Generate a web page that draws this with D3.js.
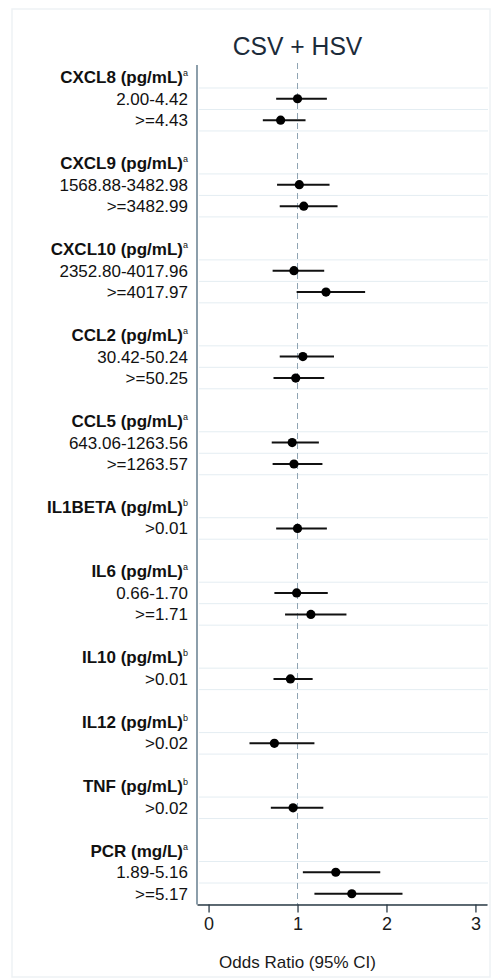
<!DOCTYPE html>
<html><head><meta charset="utf-8">
<script src="https://cdn.jsdelivr.net/npm/d3@7"></script>
<style>
html,body{margin:0;padding:0;background:#fff;}
svg{display:block;font-family:"Liberation Sans",Arial,Helvetica,sans-serif;}
</style></head>
<body>
<svg id="chart" width="496" height="978"></svg>
<script>
const title = "CSV + HSV";
const xTitle = "Odds Ratio (95% CI)";
const headers = ["CXCL8 (pg/mL)","CXCL9 (pg/mL)","CXCL10 (pg/mL)","CCL2 (pg/mL)","CCL5 (pg/mL)","IL1BETA (pg/mL)","IL6 (pg/mL)","IL10 (pg/mL)","IL12 (pg/mL)","TNF (pg/mL)","PCR (mg/L)"];
const headerNotes = ["a","a","a","a","a","b","a","b","b","b","a"];
const levelGroup = [0,0,1,1,2,2,3,3,4,4,5,6,6,7,8,9,10,10];
const levels = ["2.00-4.42",">=4.43","1568.88-3482.98",">=3482.99","2352.80-4017.96",">=4017.97","30.42-50.24",">=50.25","643.06-1263.56",">=1263.57",">0.01","0.66-1.70",">=1.71",">0.01",">0.02",">0.02","1.89-5.16",">=5.17"];
const oddsRatio = [1.00,0.81,1.02,1.07,0.96,1.32,1.06,0.98,0.94,0.96,1.00,0.99,1.15,0.92,0.74,0.95,1.43,1.61];
const ciLow =  [0.76,0.61,0.77,0.80,0.72,0.99,0.80,0.73,0.71,0.72,0.76,0.74,0.86,0.73,0.46,0.70,1.06,1.19];
const ciHigh = [1.33,1.09,1.36,1.45,1.30,1.76,1.41,1.30,1.24,1.28,1.33,1.34,1.55,1.17,1.19,1.29,1.93,2.18];
const xTicks = [0,1,2,3];
const refValue = 1;

// build row list
const rows = [];
headers.forEach((h, g) => {
  rows.push({type:"header", label:h, note:headerNotes[g]});
  levels.forEach((l, i) => {
    if (levelGroup[i] === g) rows.push({type:"level", label:l, or:oddsRatio[i], lo:ciLow[i], hi:ciHigh[i]});
  });
  if (g < headers.length - 1) rows.push({type:"blank"});
});
rows.forEach((r,i)=> r.idx = i);

const svg = d3.select("#chart");
const plotLeft = 197, plotRight = 487, plotTop = 66.5, plotBottom = 904.5;

const x = d3.scaleLinear().domain([-0.13, 3.13]).range([plotLeft, plotRight]);
const y = d3.scaleBand().domain(rows.map(r=>r.idx)).range([plotTop, plotBottom]).padding(0);
const cy = i => y(i) + y.bandwidth()/2;

// outer frame
svg.append("rect").attr("x",12).attr("y",9).attr("width",478).attr("height",968)
  .attr("fill","none").attr("stroke","#eef2f5").attr("stroke-width",1.5);

// gridlines below each non-blank row
svg.append("g").selectAll("line").data(rows.filter(r=>r.type!=="blank")).join("line")
  .attr("x1", plotLeft+2).attr("x2", plotRight+1)
  .attr("y1", d=>y(d.idx)+y.bandwidth()).attr("y2", d=>y(d.idx)+y.bandwidth())
  .attr("stroke","#e4edf2").attr("stroke-width",1);

// reference dashed line
svg.append("line").attr("x1", x(refValue)).attr("x2", x(refValue))
  .attr("y1", 63).attr("y2", plotBottom)
  .attr("stroke","#8fa3b2").attr("stroke-width",1).attr("stroke-dasharray","6,4");

// left axis line
svg.append("line").attr("x1", plotLeft).attr("x2", plotLeft).attr("y1", 65).attr("y2", plotBottom)
  .attr("stroke","#4f6b7e").attr("stroke-width",1.3);

// x axis
const xAxis = d3.axisBottom(x).tickValues(xTicks).tickFormat(d3.format("d")).tickSize(8).tickSizeOuter(0).tickPadding(5);
const gx = svg.append("g").attr("transform",`translate(0,${plotBottom})`).call(xAxis);
gx.select(".domain").attr("stroke","#2b3a45").attr("stroke-width",1.3);
gx.selectAll(".tick line").attr("stroke","#2b3a45").attr("stroke-width",1.3);
gx.selectAll(".tick text").attr("font-size",18).attr("fill","#1a1a1a")
  .attr("font-family","Liberation Sans, Arial, sans-serif");

// axis title
svg.append("text").attr("x", x(refValue)).attr("y", 968).attr("text-anchor","middle")
  .attr("font-size",17).attr("fill","#1a1a1a").text(xTitle);

// chart title
svg.append("text").attr("x", x(refValue)).attr("y", 55).attr("text-anchor","middle")
  .attr("font-size",26).attr("fill","#1c2b3a")
  .attr("transform",`translate(${x(refValue)},0) scale(0.95,1) translate(${-x(refValue)},0)`)
  .text(title);

// labels
const labelX = 188;
const lab = svg.append("g");
rows.filter(r=>r.type==="level").forEach(r=>{
  lab.append("text").attr("x",labelX).attr("y",cy(r.idx)+6).attr("text-anchor","end")
    .attr("font-size",17).attr("fill","#111").text(r.label);
});
rows.filter(r=>r.type==="header").forEach(r=>{
  const t = lab.append("text").attr("x",labelX).attr("y",cy(r.idx)+6).attr("text-anchor","end")
    .attr("font-size",17).attr("font-weight","bold").attr("fill","#111");
  t.append("tspan").text(r.label);
  t.append("tspan").attr("font-size",9).attr("dy",-7).attr("font-weight","normal").text(r.note);
});

// CIs and points
const lv = rows.filter(r=>r.type==="level");
svg.append("g").selectAll("line").data(lv).join("line")
  .attr("x1", d=>x(d.lo)).attr("x2", d=>x(d.hi))
  .attr("y1", d=>cy(d.idx)).attr("y2", d=>cy(d.idx))
  .attr("stroke","#111").attr("stroke-width",2);
svg.append("g").selectAll("circle").data(lv).join("circle")
  .attr("cx", d=>x(d.or)).attr("cy", d=>cy(d.idx)).attr("r",4.6).attr("fill","#000");
</script>
</body></html>
